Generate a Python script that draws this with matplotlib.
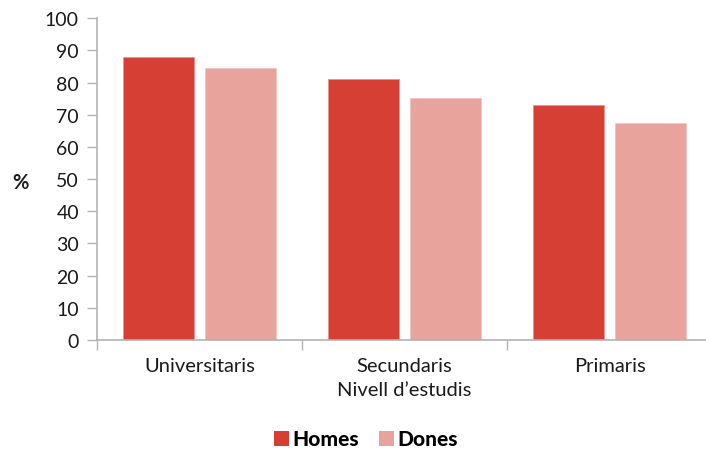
import numpy as np
import matplotlib
matplotlib.use("Agg")
import matplotlib.pyplot as plt
from matplotlib.patches import Patch

categories = ["Universitaris", "Secundaris", "Primaris"]
homes = [87.9, 81.2, 73.0]
dones = [84.6, 75.3, 67.4]
series_names = ["Homes", "Dones"]
yticks = [0, 10, 20, 30, 40, 50, 60, 70, 80, 90, 100]

col_homes = "#d63f33"
col_dones = "#e9a39d"
axis_col = "#b3b3b3"
text_col = "#1a1a1a"

plt.rcParams["font.family"] = ["Lato", "DejaVu Sans"]

fig = plt.figure(figsize=(7.06, 4.56), dpi=100)
ax = fig.add_axes([97 / 706, 115 / 456, 615 / 706, 321.7 / 456])

x = np.arange(len(categories))
w = 0.346
ax.bar(x - 0.2, homes, width=w, color=col_homes, edgecolor="#ee8f88", linewidth=0.6)
ax.bar(x + 0.2, dones, width=w, color=col_dones, edgecolor="#f2c4c0", linewidth=0.6)

ax.set_xlim(-0.5, len(categories) - 0.5)
ax.set_ylim(0, 100)
ax.set_yticks(yticks)
ax.set_yticklabels([str(v) for v in yticks], fontsize=14, color=text_col)

# category labels centred, tick marks between categories
ax.set_xticks(x)
ax.set_xticklabels(categories, fontsize=14.5, color=text_col)
ax.tick_params(axis="x", length=0, pad=12)
ax.set_xticks(np.arange(-0.5, len(categories), 1.0), minor=True)
ax.tick_params(axis="x", which="minor", length=7, color=axis_col, width=1)
ax.tick_params(axis="y", length=7, color=axis_col, width=1, pad=6)

for side in ["top", "right"]:
    ax.spines[side].set_visible(False)
for side in ["left", "bottom"]:
    ax.spines[side].set_color(axis_col)
    ax.spines[side].set_linewidth(1.2)

ax.set_xlabel("Nivell d\u2019estudis", fontsize=14.5, color=text_col, labelpad=5)
fig.text(20 / 706, 1 - 183 / 456, "%", fontsize=14.5, fontweight="bold",
         ha="center", va="center", color=text_col)

handles = [Patch(facecolor=col_homes, edgecolor="none"),
           Patch(facecolor=col_dones, edgecolor="none")]
fig.legend(handles, series_names, loc="center", bbox_to_anchor=(366 / 706, 1 - 440 / 456),
           ncol=2, frameon=False, prop={"weight": "black", "size": 15},
           handlelength=0.7, handleheight=0.7, handletextpad=0.15, columnspacing=1.0)

fig.savefig("out.png", dpi=100)
